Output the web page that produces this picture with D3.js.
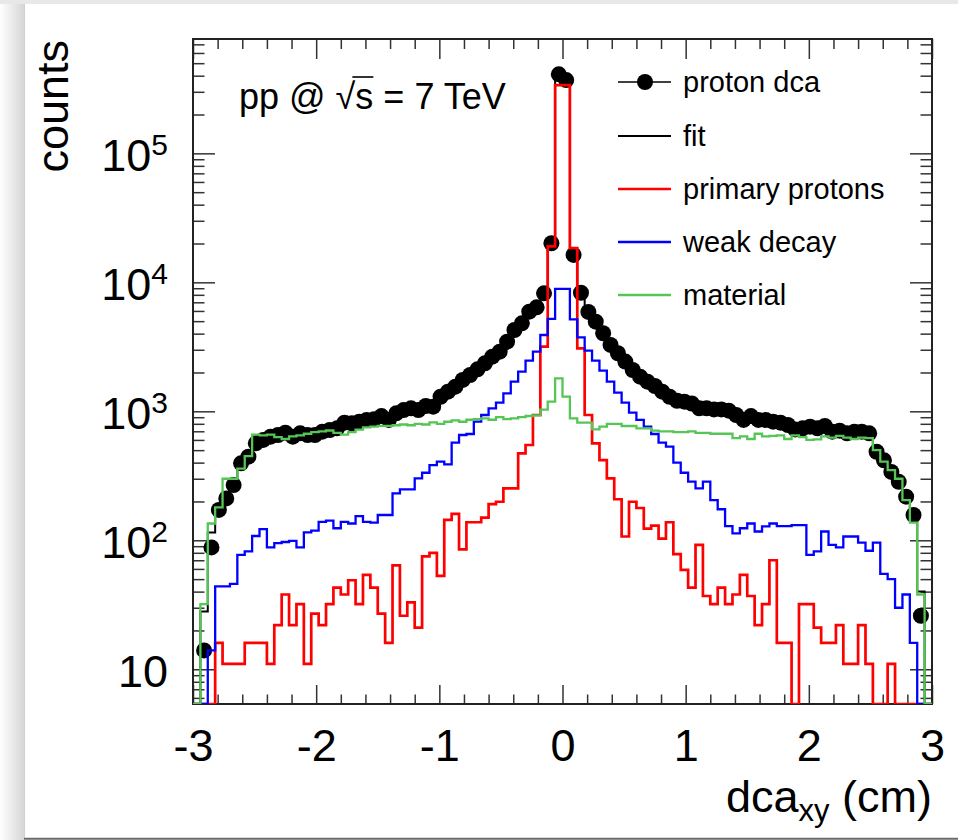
<!DOCTYPE html>
<html>
<head>
<meta charset="utf-8">
<script src="https://cdn.jsdelivr.net/npm/d3@7"></script>
<style>
  html, body { margin: 0; padding: 0; background: #fff; }
  svg { display: block; font-family: "Liberation Sans", Arial, Helvetica, sans-serif; }
</style>
</head>
<body>
<svg id="chart" width="958" height="840"></svg>
<script>
// ---- histogram binning: 100 bins of 0.06 cm between -3 and 3 ----
const xRange = [-3, 3];
const nBins = 100;

// measured proton DCA distribution (markers)
const dataCounts = [
  0, 14, 88, 172, 211, 268, 395, 445, 565, 600,
  636, 655, 683, 636, 675, 655, 655, 695, 716, 738,
  816, 807, 831, 857, 867, 919, 857, 964, 1023, 1054,
  1023, 1100, 1087, 1297, 1419, 1552, 1750, 1911, 2115, 2355,
  2653, 2900, 3467, 4268, 4808, 5920, 6395, 8220, 20100, 410000,
  370000, 16300, 8300, 5900, 4950, 4030, 3270, 2820, 2430, 2090,
  1855, 1697, 1572, 1419, 1297, 1208, 1187, 1150, 1054, 1054,
  1035, 1035, 1011, 936, 857, 919, 857, 857, 831, 816,
  783, 724, 738, 760, 738, 769, 695, 708, 675, 695,
  695, 675, 486, 417, 339, 284, 218, 157, 26, 0
];

// total template fit
const fitCounts = [
  0, 28, 115, 180, 215, 270, 395, 450, 565, 600,
  636, 655, 683, 640, 675, 655, 660, 695, 716, 738,
  816, 807, 831, 857, 867, 919, 860, 964, 1023, 1054,
  1023, 1100, 1090, 1297, 1419, 1552, 1750, 1911, 2115, 2355,
  2653, 2900, 3467, 4268, 4808, 5920, 6395, 8220, 20100, 410000,
  370000, 16300, 8300, 5900, 4950, 4030, 3270, 2820, 2430, 2090,
  1855, 1697, 1572, 1419, 1297, 1208, 1187, 1150, 1054, 1054,
  1035, 1035, 1011, 936, 857, 919, 857, 857, 831, 816,
  783, 724, 738, 760, 738, 769, 695, 708, 675, 695,
  695, 675, 486, 417, 339, 284, 218, 157, 40, 0
];

// primary protons template
const primaryCounts = [
  0, 0, 0, 16, 11, 11, 11, 16, 16, 16,
  11, 22, 38, 22, 32, 11, 27, 22, 32, 43,
  38, 49, 32, 54, 43, 27, 16, 64, 26, 33,
  21, 75, 80, 53, 144, 160, 85, 138, 138, 150,
  191, 199, 253, 253, 472, 548, 936, 3170, 19000, 338000,
  338000, 18400, 3080, 936, 565, 419, 302, 208, 107, 199,
  178, 123, 130, 103, 138, 78, 59, 43, 92, 37,
  32, 43, 32, 38, 54, 37, 22, 32, 70, 16,
  16, 0, 32, 32, 21, 16, 16, 22, 11, 11,
  22, 11, 0, 0, 11, 0, 0, 0, 0, 0
];

// protons from weak decays template
const weakDecayCounts = [
  0, 0, 14, 44, 44, 46, 77, 82, 108, 122,
  88, 95, 97, 99, 88, 115, 119, 139, 142, 124,
  139, 135, 154, 139, 137, 157, 157, 231, 248, 248,
  302, 334, 383, 407, 388, 571, 655, 667, 831, 936,
  1054, 1167, 1378, 1697, 2029, 2469, 2899, 3904, 5200, 8900,
  8900, 5160, 3740, 2950, 2470, 2065, 1697, 1395, 1167, 976,
  857, 760, 667, 571, 532, 400, 334, 285, 253, 285,
  205, 174, 129, 113, 124, 135, 117, 128, 135, 129,
  129, 131, 131, 77, 82, 117, 92, 88, 107, 107,
  96, 83, 96, 55, 50, 30, 38, 16, 0, 0
];

// protons knocked out of detector material template
const materialCounts = [
  0, 32, 135, 180, 300, 300, 360, 450, 660, 650,
  660, 630, 610, 640, 650, 670, 690, 700, 710, 680,
  660, 690, 720, 750, 760, 770, 770, 780, 790, 780,
  800, 790, 820, 800, 830, 850, 830, 860, 870, 880,
  860, 900, 870, 880, 900, 920, 930, 1030, 1190, 1800,
  1300, 880, 816, 816, 724, 760, 798, 798, 769, 769,
  738, 738, 708, 700, 700, 690, 690, 700, 680, 680,
  670, 670, 670, 620, 640, 610, 670, 640, 645, 650,
  610, 650, 630, 600, 605, 640, 625, 645, 625, 610,
  625, 620, 500, 408, 350, 300, 205, 137, 38, 0
];

const xMajorTicks = [-3, -2, -1, 0, 1, 2, 3];
const yDecadeTicks = [10, 100, 1000, 10000, 100000];
const yDomain = [5.38, 7.7e5];
const legendLabels = ["proton dca", "fit", "primary protons", "weak decay", "material"];

// ---- layout ----
const W = 958, H = 840;
const plot = { left: 193, right: 932, top: 39, bottom: 704 };
const axisFont = 45;
const colors = { data: "#000", fit: "#000", primary: "#ff0000", weak: "#0000ff", material: "#55c555" };

const svg = d3.select("#chart");

// page / card background
const defs = svg.append("defs");
const shade = defs.append("linearGradient").attr("id", "shade")
  .attr("x1", 0).attr("x2", 1).attr("y1", 0).attr("y2", 0);
shade.append("stop").attr("offset", 0).attr("stop-color", "#ffffff");
shade.append("stop").attr("offset", 1).attr("stop-color", "#d6d6d6");
svg.append("rect").attr("width", W).attr("height", H).attr("fill", "#fff");
svg.append("rect").attr("x", 0).attr("y", 0).attr("width", 24).attr("height", H).attr("fill", "url(#shade)");
svg.append("rect").attr("x", 0).attr("y", 0).attr("width", W).attr("height", 4).attr("fill", "#e8e8e8");
svg.append("line").attr("x1", 24.5).attr("x2", 24.5).attr("y1", 4).attr("y2", 839)
  .attr("stroke", "#d0d0d0").attr("stroke-width", 1);
svg.append("line").attr("x1", 24).attr("x2", W).attr("y1", 838.8).attr("y2", 838.8)
  .attr("stroke", "#6a6a6a").attr("stroke-width", 2);

defs.append("clipPath").attr("id", "plotClip").append("rect")
  .attr("x", plot.left).attr("y", plot.top)
  .attr("width", plot.right - plot.left).attr("height", plot.bottom - plot.top);

// ---- scales ----
const x = d3.scaleLinear().domain(xRange).range([plot.left, plot.right]);
const y = d3.scaleLog().domain(yDomain).range([plot.bottom, plot.top]);
const edges = d3.range(nBins + 1).map(i => xRange[0] + i * (xRange[1] - xRange[0]) / nBins);
const yPos = v => (v > yDomain[0] ? y(v) : plot.bottom);

// ---- axes (ticks drawn inward on all four sides) ----
const tickStroke = "#333";
const xMinor = d3.range(-3, 3.0001, 0.2).filter(v => Math.abs(v - Math.round(v)) > 1e-6);
const yMinor = y.ticks().filter(v => !yDecadeTicks.includes(v));

function styleAxis(g) {
  g.select(".domain").remove();
  g.selectAll(".tick line").attr("stroke", tickStroke).attr("stroke-width", 1.5);
}

svg.append("g").attr("transform", `translate(0,${plot.bottom})`)
  .call(d3.axisBottom(x).tickValues(xMinor).tickSize(-9.5).tickFormat(""))
  .call(styleAxis);
const xAxisG = svg.append("g").attr("transform", `translate(0,${plot.bottom})`)
  .call(d3.axisBottom(x).tickValues(xMajorTicks).tickSize(-19).tickFormat(d => String(d)))
  .call(styleAxis);
xAxisG.selectAll(".tick text")
  .attr("y", 57).attr("dy", null)
  .attr("font-size", axisFont).attr("font-family", "Liberation Sans, Arial, sans-serif").attr("fill", "#000");

svg.append("g").attr("transform", `translate(0,${plot.top})`)
  .call(d3.axisTop(x).tickValues(xMinor).tickSize(-10).tickFormat(""))
  .call(styleAxis);
svg.append("g").attr("transform", `translate(0,${plot.top})`)
  .call(d3.axisTop(x).tickValues(xMajorTicks).tickSize(-20).tickFormat(""))
  .call(styleAxis);

svg.append("g").attr("transform", `translate(${plot.left},0)`)
  .call(d3.axisLeft(y).tickValues(yMinor).tickSize(-11.5).tickFormat(""))
  .call(styleAxis);
const yAxisG = svg.append("g").attr("transform", `translate(${plot.left},0)`)
  .call(d3.axisLeft(y).tickValues(yDecadeTicks).tickSize(-22).tickFormat(""))
  .call(styleAxis);
yAxisG.selectAll(".tick text").remove();
yAxisG.selectAll(".tick").append("text")
  .attr("x", -25).attr("y", 17)
  .attr("text-anchor", "end")
  .attr("font-size", axisFont).attr("font-family", "Liberation Sans, Arial, sans-serif").attr("fill", "#000")
  .each(function (d) {
    const t = d3.select(this);
    const exp = Math.round(Math.log10(d));
    t.append("tspan").text("10");
    if (exp !== 1) {
      t.append("tspan").attr("dy", -16).attr("font-size", 30).text(String(exp));
    }
  });

svg.append("g").attr("transform", `translate(${plot.right},0)`)
  .call(d3.axisRight(y).tickValues(yMinor).tickSize(-11.5).tickFormat(""))
  .call(styleAxis);
svg.append("g").attr("transform", `translate(${plot.right},0)`)
  .call(d3.axisRight(y).tickValues(yDecadeTicks).tickSize(-22).tickFormat(""))
  .call(styleAxis);

// frame
svg.append("rect").attr("x", plot.left).attr("y", plot.top)
  .attr("width", plot.right - plot.left).attr("height", plot.bottom - plot.top)
  .attr("fill", "none").attr("stroke", "#222").attr("stroke-width", 2);

// axis titles
const xTitle = svg.append("text").attr("x", plot.right).attr("y", 812)
  .attr("text-anchor", "end").attr("font-size", axisFont).attr("fill", "#000");
xTitle.append("tspan").text("dca");
xTitle.append("tspan").attr("dy", 9).attr("font-size", 31).text("xy");
xTitle.append("tspan").attr("dy", -9).text(" (cm)");

svg.append("text").attr("transform", "translate(68,40) rotate(-90)")
  .attr("text-anchor", "end").attr("font-size", axisFont).attr("fill", "#000")
  .text("counts");

// ---- histograms ----
function stepPoints(counts) {
  const pts = [{ x: edges[0], v: 0 }];
  counts.forEach((c, i) => pts.push({ x: edges[i], v: c }));
  pts.push({ x: edges[nBins], v: counts[nBins - 1] });
  pts.push({ x: edges[nBins], v: 0 });
  return pts;
}
const stepLine = d3.line().x(d => x(d.x)).y(d => yPos(d.v)).curve(d3.curveStepAfter);

const plotArea = svg.append("g").attr("clip-path", "url(#plotClip)");

// data markers
const dataPoints = dataCounts
  .map((c, i) => ({ xc: (edges[i] + edges[i + 1]) / 2, v: c }))
  .filter(d => d.v > yDomain[0]);
plotArea.append("g").selectAll("circle").data(dataPoints).join("circle")
  .attr("cx", d => x(d.xc)).attr("cy", d => y(d.v)).attr("r", 8)
  .attr("fill", colors.data);

const series = [
  { counts: fitCounts, color: colors.fit, width: 2 },
  { counts: primaryCounts, color: colors.primary, width: 2.7 },
  { counts: weakDecayCounts, color: colors.weak, width: 2.3 },
  { counts: materialCounts, color: colors.material, width: 2.3 }
];
series.forEach(s => {
  plotArea.append("path").attr("d", stepLine(stepPoints(s.counts)))
    .attr("fill", "none").attr("stroke", s.color).attr("stroke-width", s.width)
    .attr("stroke-linejoin", "miter");
});

// ---- energy label ----
const ppText = svg.append("text").attr("x", 239).attr("y", 109)
  .attr("font-size", 36).attr("fill", "#000").text("pp @ \u221As = 7 TeV");
const ppNode = ppText.node();
const sStart = ppNode.getSubStringLength(0, 6);
const sWidth = ppNode.getSubStringLength(6, 1);
svg.append("line")
  .attr("x1", 239 + sStart - 3).attr("x2", 239 + sStart + sWidth)
  .attr("y1", 77).attr("y2", 77)
  .attr("stroke", "#000").attr("stroke-width", 1.6);

// ---- legend ----
const legendStyles = [
  { color: colors.data, width: 1.5, marker: true },
  { color: colors.fit, width: 2, marker: false },
  { color: colors.primary, width: 2.7, marker: false },
  { color: colors.weak, width: 2.3, marker: false },
  { color: colors.material, width: 2.3, marker: false }
];
const legendBaselines = [92, 146, 199, 252, 305];
const legend = svg.append("g");
legendLabels.forEach((label, i) => {
  const st = legendStyles[i];
  const base = legendBaselines[i];
  const ly = base - 10;
  legend.append("line").attr("x1", 618).attr("x2", 671).attr("y1", ly).attr("y2", ly)
    .attr("stroke", st.color).attr("stroke-width", st.width);
  if (st.marker) {
    legend.append("circle").attr("cx", 645).attr("cy", ly).attr("r", 8).attr("fill", st.color);
  }
  legend.append("text").attr("x", 683).attr("y", base)
    .attr("font-size", 29).attr("fill", "#000").text(label);
});
</script>
</body>
</html>
